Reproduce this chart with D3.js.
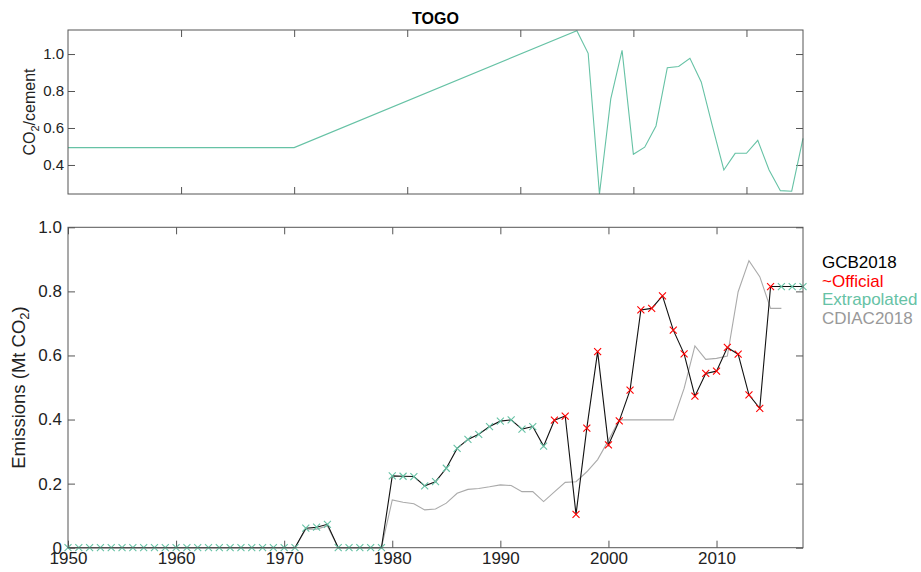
<!DOCTYPE html>
<meta charset="utf-8">
<style>
body { margin: 0; background: #fff; }
svg { font-family: Helvetica, Arial, "Liberation Sans", sans-serif; }
.tick line { stroke: #555; }
.frame { fill: none; stroke: #555; stroke-width: 1; }
</style>
<svg width="921" height="572"></svg>
<script src="https://d3js.org/d3.v7.min.js"></script>
<script>
// emissions, 1950-2018 (Mt CO2)
var years = d3.range(1950, 2019);
var gcb = [0, 0, 0, 0, 0, 0, 0, 0, 0, 0, 0, 0, 0, 0, 0, 0, 0, 0, 0, 0, 0, 0,
  0.061, 0.064, 0.073, 0, 0, 0, 0, 0,
  0.224, 0.223, 0.222, 0.193, 0.206, 0.248, 0.310, 0.338, 0.354, 0.378,
  0.395, 0.399, 0.370, 0.378, 0.317,
  0.398, 0.411, 0.104, 0.373, 0.612, 0.321, 0.396, 0.492, 0.742, 0.747,
  0.786, 0.679, 0.605, 0.473, 0.544, 0.551, 0.625, 0.604, 0.477, 0.435,
  0.815, 0.815, 0.815, 0.815];
// CDIAC2018, 1950-2016
var cdiac = [0, 0, 0, 0, 0, 0, 0, 0, 0, 0, 0, 0, 0, 0, 0, 0, 0, 0, 0, 0, 0, 0,
  0.058, 0.058, 0.068, 0, 0, 0, 0, 0,
  0.149, 0.142, 0.137, 0.118, 0.121, 0.139, 0.170, 0.182, 0.185, 0.190,
  0.196, 0.194, 0.175, 0.175, 0.144,
  0.174, 0.204, 0.206, 0.237, 0.275, 0.335, 0.399, 0.399, 0.399, 0.399,
  0.399, 0.399, 0.497, 0.630, 0.588, 0.591, 0.598, 0.799, 0.896, 0.846,
  0.747, 0.747];
var officialYears = d3.range(1995, 2016);

// CO2/cement ratio
var ratioYears = [1950, 1970, 1995, 1996, 1997, 1998, 1999, 2000, 2001, 2002, 2003,
  2004, 2005, 2006, 2007, 2008, 2009, 2010, 2011, 2012, 2013, 2014, 2015];
var ratioVals = [0.494, 0.494, 1.126, 1.004, 0.243, 0.757, 1.02, 0.458, 0.496, 0.611, 0.926,
  0.933, 0.977, 0.849, 0.607, 0.373, 0.463, 0.463, 0.533, 0.373, 0.261, 0.258, 0.544];

var yearTicks = [1950, 1960, 1970, 1980, 1990, 2000, 2010];
var legendLabels = ["GCB2018", "~Official", "Extrapolated", "CDIAC2018"];
var legendColors = ["#000", "#ff0000", "#66c2a5", "#999"];

var teal = "#66c2a5", red = "#ff0000";
var svg = d3.select("svg");

var L = 68, R = 803;

//---------- top panel
var t = svg.append("g");
var xt = d3.scaleLinear().domain([1950, 2015]).range([L, R]);
var yt = d3.scaleLinear().domain([0.243, 1.13]).range([194, 30]);

t.append("g").attr("transform", "translate(0,194)")
  .call(d3.axisBottom(xt).tickValues(yearTicks.slice(1)).tickSize(-7).tickSizeOuter(0).tickFormat(""));
t.append("g").attr("transform", "translate(0,30)")
  .call(d3.axisTop(xt).tickValues(yearTicks.slice(1)).tickSize(-7).tickSizeOuter(0).tickFormat(""));
t.append("g").attr("transform", "translate(" + L + ",0)")
  .call(d3.axisLeft(yt).tickValues([0.4, 0.6, 0.8, 1.0]).tickSize(-7).tickSizeOuter(0)
    .tickPadding(4).tickFormat(d3.format(".1f")))
  .selectAll("text").style("font-size", "15px").attr("fill", "#222");
t.append("g").attr("transform", "translate(" + R + ",0)")
  .call(d3.axisRight(yt).tickValues([0.4, 0.6, 0.8, 1.0]).tickSize(-7).tickSizeOuter(0).tickFormat(""));
t.selectAll(".domain").remove();

t.append("path")
  .datum(ratioYears.map(function(d, i) { return [d, ratioVals[i]]; }))
  .attr("fill", "none").attr("stroke", teal).attr("stroke-width", 1.1)
  .attr("d", d3.line().x(function(d) { return xt(d[0]); }).y(function(d) { return yt(d[1]); }));

t.append("rect").attr("class", "frame").attr("x", L).attr("y", 30).attr("width", R - L).attr("height", 164);

t.append("text").attr("x", (L + R) / 2).attr("y", 24).attr("text-anchor", "middle")
  .attr("font-weight", "bold").style("font-size", "16px").text("TOGO");

var lab1 = t.append("text").attr("transform", "translate(35,112) rotate(-90)")
  .attr("text-anchor", "middle").style("font-size", "16px").attr("fill", "#222");
lab1.append("tspan").text("CO");
lab1.append("tspan").attr("dy", 4).style("font-size", "11px").text("2");
lab1.append("tspan").attr("dy", -4).text("/cement");

//---------- bottom panel
var b = svg.append("g");
var yB = 547.7, yT = 227.3;
var x = d3.scaleLinear().domain([1950, 2018]).range([L, R]);
var y = d3.scaleLinear().domain([0, 1]).range([yB, yT]);

b.append("g").attr("transform", "translate(0," + yB + ")")
  .call(d3.axisBottom(x).tickValues(yearTicks).tickSize(-7).tickSizeOuter(0).tickPadding(4).tickFormat(d3.format("d")))
  .selectAll("text").style("font-size", "17px").attr("fill", "#222");
b.append("g").attr("transform", "translate(0," + yT + ")")
  .call(d3.axisTop(x).tickValues(yearTicks).tickSize(-7).tickSizeOuter(0).tickFormat(""));
b.append("g").attr("transform", "translate(" + L + ",0)")
  .call(d3.axisLeft(y).tickValues([0, 0.2, 0.4, 0.6, 0.8, 1.0]).tickSize(-7).tickSizeOuter(0).tickPadding(6)
    .tickFormat(function(d) { return d === 0 ? "0" : d3.format(".1f")(d); }))
  .selectAll("text").style("font-size", "17px").attr("fill", "#222");
b.append("g").attr("transform", "translate(" + R + ",0)")
  .call(d3.axisRight(y).tickValues([0, 0.2, 0.4, 0.6, 0.8, 1.0]).tickSize(-7).tickSizeOuter(0).tickFormat(""));
b.selectAll(".domain").remove();

var line = d3.line().x(function(d) { return x(d[0]); }).y(function(d) { return y(d[1]); });

b.append("path")
  .datum(cdiac.map(function(v, i) { return [years[i], v]; }))
  .attr("fill", "none").attr("stroke", "#aaa").attr("stroke-width", 1.1).attr("d", line);

var gcbPts = gcb.map(function(v, i) { return [years[i], v]; });
b.append("path").datum(gcbPts)
  .attr("fill", "none").attr("stroke", "#111").attr("stroke-width", 1.1).attr("d", line);

var cross = "M-3.5,-3.5L3.5,3.5M-3.5,3.5L3.5,-3.5";
b.selectAll(".mk").data(gcbPts).enter().append("path")
  .attr("class", "mk")
  .attr("transform", function(d) { return "translate(" + x(d[0]) + "," + y(d[1]) + ")"; })
  .attr("d", cross).attr("fill", "none").attr("stroke-width", 1.1)
  .attr("stroke", function(d) { return officialYears.indexOf(d[0]) >= 0 ? red : teal; });

b.append("rect").attr("class", "frame").attr("x", L).attr("y", yT).attr("width", R - L).attr("height", yB - yT);

var lab2 = b.append("text").attr("transform", "translate(25," + ((yB + yT) / 2) + ") rotate(-90)")
  .attr("text-anchor", "middle").style("font-size", "18.5px").attr("fill", "#222");
lab2.append("tspan").text("Emissions (Mt CO");
lab2.append("tspan").attr("dy", 4).style("font-size", "13px").text("2");
lab2.append("tspan").attr("dy", -4).text(")");

// legend
svg.append("g").selectAll("text").data(legendLabels).enter().append("text")
  .attr("x", 822).attr("y", function(d, i) { return 268 + i * 18.5; })
  .style("font-size", "17px")
  .attr("fill", function(d, i) { return legendColors[i]; })
  .text(function(d) { return d; });
</script>
